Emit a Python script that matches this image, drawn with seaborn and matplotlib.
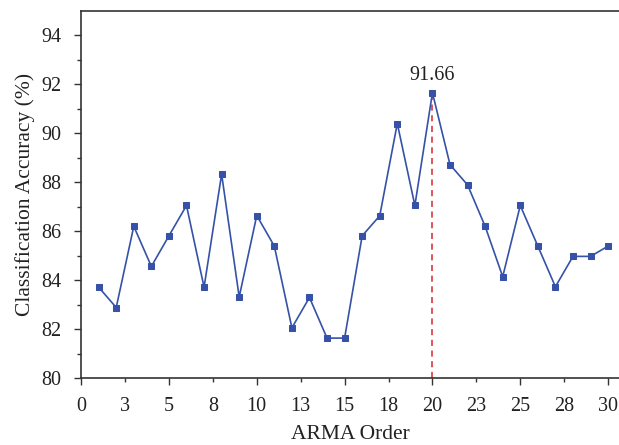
import numpy as np
import pandas as pd
import matplotlib
matplotlib.use("Agg")
import matplotlib.pyplot as plt
import seaborn as sns

# ARMA order vs classification accuracy
orders = list(range(1, 31))
accuracy = [83.71, 82.88, 86.20, 84.56, 85.81, 87.05, 83.71, 88.33, 83.31, 86.64,
            85.39, 82.05, 83.29, 81.63, 81.63, 85.81, 86.63, 90.40, 87.05, 91.66,
            88.72, 87.89, 86.20, 84.14, 87.05, 85.39, 83.73, 84.97, 84.97, 85.39]
best_order = 20
best_value = 91.66

x_major = [0, 5, 10, 15, 20, 25, 30]
x_minor = [2.5, 7.5, 12.5, 17.5, 22.5, 27.5]
x_minor_labels = ["3", "8", "13", "18", "23", "28"]

df = pd.DataFrame({"order": orders, "acc": accuracy})

sns.set_style("ticks")
plt.rcParams['font.family'] = ['Liberation Serif', 'DejaVu Serif']

fig = plt.figure(figsize=(6.19, 4.45), dpi=100)
ax = fig.add_axes([0.131, 0.1506, 0.869, 0.8247])

blue = "#3552a8"
sns.lineplot(data=df, x="order", y="acc", ax=ax, color=blue, linewidth=1.2,
             marker="s", markersize=4.5, markeredgecolor=blue)

ax.vlines(best_order, 80, best_value, colors="#d6262d", linestyles=(0, (4, 3)),
          linewidth=1.1, zorder=1)
ax.text(best_order, best_value + 0.3, "91.66", ha="center", va="bottom", fontsize=14.5,
        color="#222222")

ax.set_xlim(0, 30.62)
ax.set_ylim(80, 95)
ax.set_xticks(x_major)
ax.set_xticklabels([str(v) for v in x_major])
ax.set_xticks(x_minor, minor=True)
ax.set_xticklabels(x_minor_labels, minor=True)
ax.set_yticks(np.arange(80, 95, 2))
ax.set_yticks(np.arange(81, 95, 2), minor=True)

ax.tick_params(axis="both", which="major", direction="out", length=5, width=1.0,
               labelsize=14.5, colors="#333333", labelcolor="#222222")
ax.tick_params(axis="both", which="minor", direction="out", length=3, width=1.0,
               labelsize=14.5, colors="#333333", labelcolor="#222222")
ax.tick_params(axis="x", which="major", pad=9)
ax.tick_params(axis="x", which="minor", pad=11)
ax.tick_params(axis="y", which="major", pad=9)

for s in ["left", "bottom", "top"]:
    ax.spines[s].set_color("#333333")
    ax.spines[s].set_linewidth(1.2)
ax.spines["right"].set_visible(False)

ax.set_xlabel("ARMA Order", fontsize=15.5, color="#222222", labelpad=6)
ax.set_ylabel("Classification Accuracy (%)", fontsize=15.5, color="#222222", labelpad=5)

fig.savefig("out.png", dpi=100)
